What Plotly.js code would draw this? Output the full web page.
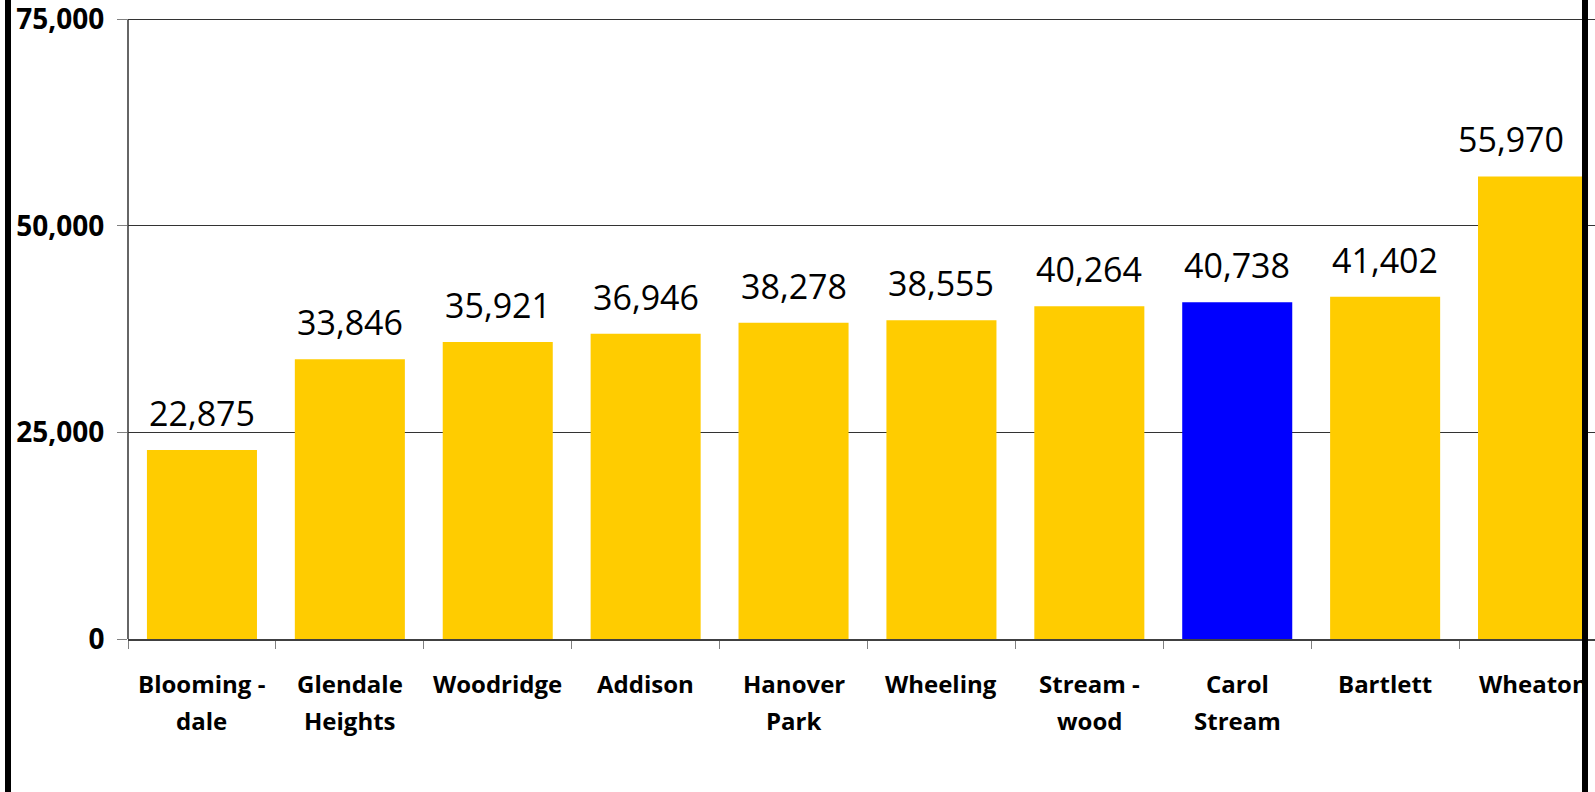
<!DOCTYPE html>
<html>
<head>
<meta charset="utf-8">
<script src="https://cdn.plot.ly/plotly-3.0.1.min.js"></script>
<style>
  html, body { margin:0; padding:0; background:#fff; overflow:hidden; }
  #chart { width:1595px; height:792px; }
  .border { position:absolute; top:0; width:6px; height:792px; background:#000; z-index:10; }
</style>
</head>
<body>
<div id="chart"></div>
<div class="border" style="left:5px"></div>
<div class="border" style="left:1582px"></div>
<script>
// Data
const categories = ["Blooming-dale","Glendale Heights","Woodridge","Addison","Hanover Park","Wheeling","Stream-wood","Carol Stream","Bartlett","Wheaton"];
const labelLine1 = ["Blooming -","Glendale","Woodridge","Addison","Hanover","Wheeling","Stream -","Carol","Bartlett","Wheaton"];
const labelLine2 = ["dale","Heights","","","Park","","wood","Stream","",""];
const values = [22875, 33846, 35921, 36946, 38278, 38555, 40264, 40738, 41402, 55970];
const highlight = "Carol Stream";
const yTicks = [0, 25000, 50000, 75000];

const colors = categories.map(c => c === highlight ? "#0000FF" : "#FFCC00");

const trace = {
  type: "bar",
  x: categories,
  y: values,
  marker: { color: colors, line: { width: 0 } },
  hoverinfo: "none"
};

const annotations = [];
categories.forEach((c, i) => {
  annotations.push({
    x: c, y: values[i], xref: "x", yref: "y",
    text: values[i].toLocaleString("en-US"),
    showarrow: false, yanchor: "middle", yshift: 37,
    xshift: i === categories.length - 1 ? -22 : 0,
    font: { family: "Open Sans", size: 34, color: "#000" }
  });
  annotations.push({
    x: c, y: -0.0713, xref: "x", yref: "paper",
    text: labelLine1[i], showarrow: false, yanchor: "middle",
    font: { family: "Open Sans", size: 24, color: "#000", weight: "bold" }
  });
  if (labelLine2[i]) {
    annotations.push({
      x: c, y: -0.1303, xref: "x", yref: "paper",
      text: labelLine2[i], showarrow: false, yanchor: "middle",
      font: { family: "Open Sans", size: 24, color: "#000", weight: "bold" }
    });
  }
});

const layout = {
  width: 1595, height: 792,
  margin: { l: 128, r: 0, t: 15, b: 153, pad: 0 },
  paper_bgcolor: "#fff", plot_bgcolor: "#fff",
  showlegend: false,
  bargap: 0.256,
  xaxis: {
    type: "category",
    range: [-0.5, 9.419],
    showticklabels: false,
    ticks: "outside", ticklen: 8, tickcolor: "#808080", tickwidth: 1,
    tickson: "boundaries",
    showline: true, linecolor: "#404040", linewidth: 1.5,
    showgrid: false, zeroline: false, fixedrange: true
  },
  yaxis: {
    range: [0, 75500],
    tickvals: yTicks,
    ticktext: yTicks.map(v => v.toLocaleString("en-US")),
    ticks: "outside", ticklen: 10, tickcolor: "#808080", tickwidth: 1,
    ticklabelstandoff: 7,
    ticklabeloverflow: "allow",
    tickfont: { family: "Open Sans", size: 28, color: "#000", weight: "bold" },
    showline: false,
    showgrid: true, gridcolor: "#333", gridwidth: 1,
    zeroline: false, fixedrange: true
  },
  shapes: [{
    type: "line", xref: "paper", yref: "y",
    x0: 0, x1: 0, y0: 0, y1: yTicks[yTicks.length - 1],
    line: { color: "#333", width: 1.5 }
  }],
  annotations: annotations
};

Plotly.newPlot("chart", [trace], layout, { displayModeBar: false, staticPlot: true });
</script>
</body>
</html>
